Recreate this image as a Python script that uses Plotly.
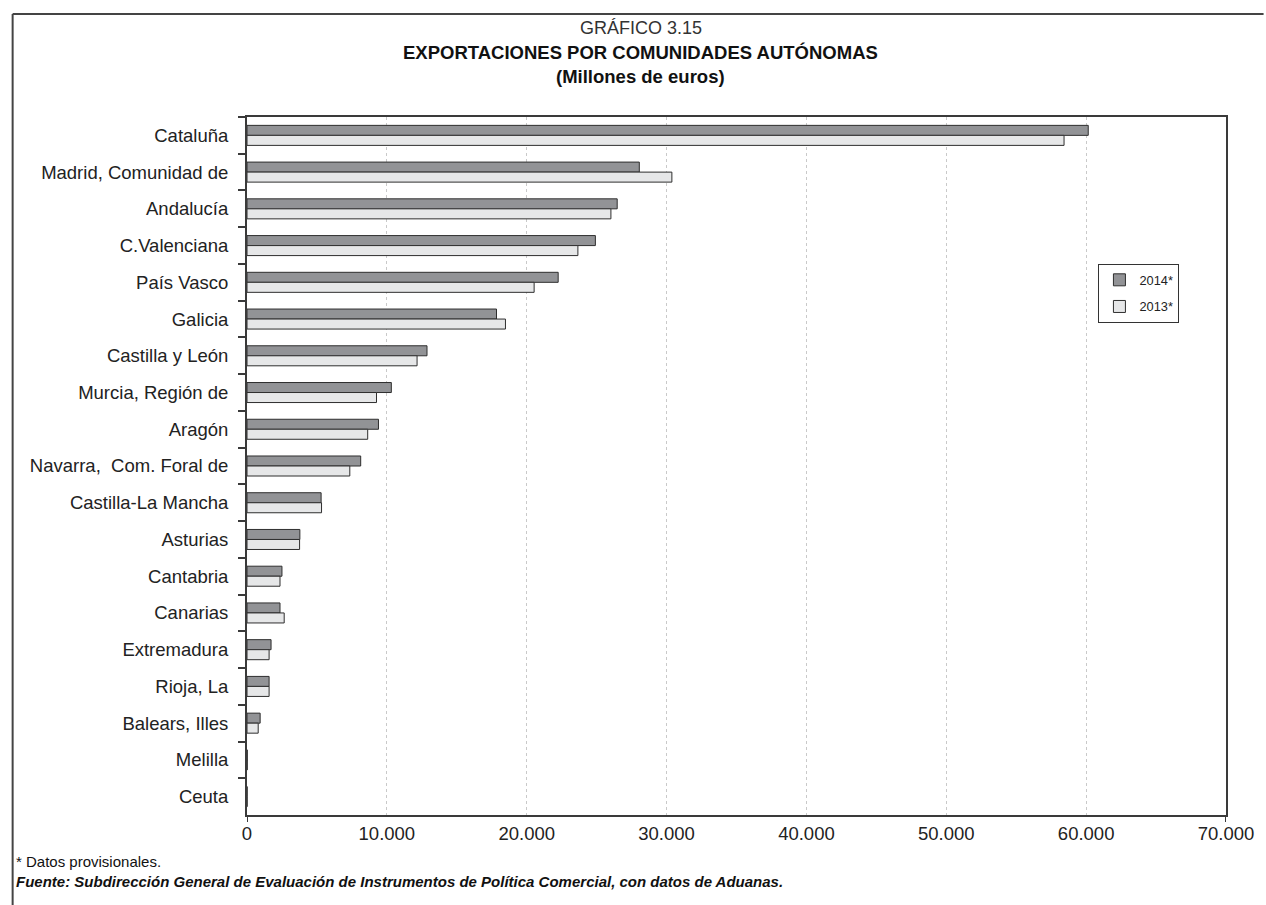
import plotly.graph_objects as go

# Comunidades autónomas, ordered from top to bottom
regions = [
    "Cataluña", "Madrid, Comunidad de", "Andalucía", "C.Valenciana", "País Vasco",
    "Galicia", "Castilla y León", "Murcia, Región de", "Aragón",
    "Navarra,  Com. Foral de", "Castilla-La Mancha", "Asturias", "Cantabria",
    "Canarias", "Extremadura", "Rioja, La", "Balears, Illes", "Melilla", "Ceuta",
]

# Exportaciones, millones de euros
exports_2014 = [60150, 28050, 26470, 24910, 22250, 17840, 12870, 10320, 9400,
                8130, 5300, 3780, 2500, 2360, 1720, 1580, 940, 20, 10]
exports_2013 = [58420, 30380, 26020, 23660, 20530, 18480, 12160, 9260, 8630,
                7350, 5330, 3760, 2360, 2660, 1580, 1580, 800, 20, 10]

x_ticks = [0, 10000, 20000, 30000, 40000, 50000, 60000, 70000]

AXIS = "#3a3a3a"
FONT = "Liberation Sans, Arial, Helvetica, sans-serif"

fig = go.Figure()
fig.add_trace(go.Bar(
    y=regions, x=exports_2014, name="2014*", orientation="h",
    marker=dict(color="#929396", line=dict(color="#2e2e2e", width=1)),
    legendgroup="a",
))
fig.add_trace(go.Bar(
    y=regions, x=exports_2013, name="2013*", orientation="h",
    marker=dict(color="#e6e7e8", line=dict(color="#2e2e2e", width=1)),
    legendgroup="b",
))

# plot-area pixel geometry (used for decorations outside the axes)
L, R, T, B, W, H = 247, 29, 117, 90, 1266, 905
pw, ph = W - L - R, H - T - B


def px_x(p):
    return (p - L) / pw


def px_y(p):
    return (H - B - p) / ph


shapes = [
    # outer frame (top and left edges)
    dict(type="line", xref="paper", yref="paper", x0=px_x(10), x1=px_x(1275),
         y0=px_y(14), y1=px_y(14), line=dict(color="#444", width=2)),
    dict(type="line", xref="paper", yref="paper", x0=px_x(10), x1=px_x(10),
         y0=px_y(14), y1=px_y(910), line=dict(color="#444", width=2)),
    # short extensions of the vertical axis lines below the x axis
    dict(type="line", xref="x", yref="paper", x0=x_ticks[0], x1=x_ticks[0],
         y0=0, y1=-7 / ph, line=dict(color=AXIS, width=2)),
    dict(type="line", xref="x", yref="paper", x0=x_ticks[-1], x1=x_ticks[-1],
         y0=0, y1=-7 / ph, line=dict(color=AXIS, width=2)),
]

annotations = [
    dict(text="GRÁFICO 3.15", x=px_x(645), y=px_y(28), xref="paper", yref="paper",
         showarrow=False, xanchor="center", yanchor="middle",
         font=dict(size=18, color="#333", family=FONT)),
    dict(text="<b>EXPORTACIONES POR COMUNIDADES AUTÓNOMAS</b>", x=px_x(645), y=px_y(52),
         xref="paper", yref="paper", showarrow=False, xanchor="center", yanchor="middle",
         font=dict(size=18.5, color="#111", family=FONT)),
    dict(text="<b>(Millones de euros)</b>", x=px_x(645), y=px_y(76),
         xref="paper", yref="paper", showarrow=False, xanchor="center", yanchor="middle",
         font=dict(size=18.5, color="#111", family=FONT)),
    dict(text="* Datos provisionales.", x=px_x(11), y=px_y(861),
         xref="paper", yref="paper", showarrow=False, xanchor="left", yanchor="middle",
         font=dict(size=15, color="#111", family=FONT)),
    dict(text="<b><i>Fuente: Subdirección General de Evaluación de Instrumentos de Política Comercial, con datos de Aduanas.</i></b>",
         x=px_x(11), y=px_y(881), xref="paper", yref="paper", showarrow=False,
         xanchor="left", yanchor="middle", font=dict(size=15, color="#111", family=FONT)),
]

fig.update_layout(
    width=W, height=H,
    margin=dict(l=L, r=R, t=T, b=B, pad=0),
    paper_bgcolor="white", plot_bgcolor="white",
    barmode="group", bargap=0.455, bargroupgap=0,
    separators=",.",
    font=dict(family=FONT, color="#222"),
    showlegend=True,
    legend=dict(
        x=px_x(1108), y=px_y(264), xanchor="left", yanchor="top",
        bordercolor="#333", borderwidth=1, bgcolor="white",
        font=dict(size=12.8, family=FONT, color="#222"),
        traceorder="grouped", tracegroupgap=7,
        itemwidth=30, entrywidth=80, entrywidthmode="pixels",
    ),
    xaxis=dict(
        range=[x_ticks[0], x_ticks[-1]], tickvals=x_ticks, tickformat=",d",
        showgrid=True, gridcolor="#c9c9c9", gridwidth=1, griddash="3px,3px",
        zeroline=False, showline=True, linecolor=AXIS, linewidth=2, mirror=True,
        ticks="", ticklabelstandoff=1, ticklabeloverflow="allow",
        tickfont=dict(size=18.5, family=FONT, color="#222"),
        fixedrange=True,
    ),
    yaxis=dict(
        type="category", categoryarray=regions, categoryorder="array",
        autorange="reversed",
        showline=True, linecolor=AXIS, linewidth=2, mirror=True,
        ticks="outside", tickson="boundaries", ticklen=7, tickcolor=AXIS, tickwidth=2,
        showgrid=False, ticklabelstandoff=13,
        tickfont=dict(size=18.5, family=FONT, color="#222"),
        fixedrange=True,
    ),
    shapes=shapes,
    annotations=annotations,
)

fig.write_html("out.html")
